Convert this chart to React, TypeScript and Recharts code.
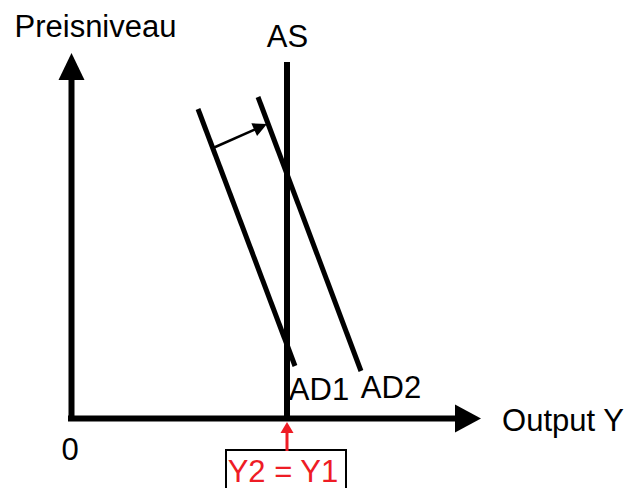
import { LineChart, XAxis, YAxis, ReferenceLine, ReferenceDot, ReferenceArea } from 'recharts';

// coordinates in chart units (x to the right, y downward from the top)
const ad1 = [
  { x: 198, y: 109 },
  { x: 295, y: 366 },
];
const ad2 = [
  { x: 258, y: 97 },
  { x: 361, y: 371 },
];
const asLine = [
  { x: 287, y: 62 },
  { x: 287, y: 421 },
];
const yAxisArrow = [
  { x: 71.5, y: 421 },
  { x: 71.5, y: 53 },
];
const xAxisArrow = [
  { x: 68, y: 418.5 },
  { x: 481, y: 418.5 },
];
const shiftArrow = [
  { x: 213, y: 148 },
  { x: 267, y: 124 },
];
const redArrow = [
  { x: 287, y: 451 },
  { x: 287, y: 422 },
];
const redBox = { x1: 226, x2: 346, y1: 450, y2: 495 };

const labels = [
  { text: 'Preisniveau', x: 95.5, y: 26, color: '#000' },
  { text: 'AS', x: 287.5, y: 36, color: '#000' },
  { text: 'AD1', x: 319, y: 389, color: '#000' },
  { text: 'AD2', x: 391, y: 387, color: '#000' },
  { text: 'Output Y', x: 563, y: 420, color: '#000' },
  { text: '0', x: 70, y: 449, color: '#000' },
  { text: 'Y2 = Y1', x: 283, y: 471, color: '#ee1c25' },
];

const FONT = '"Liberation Sans", Arial, Helvetica, sans-serif';

function arrowShape(headLen: number, headHalf: number, width: number, color: string) {
  return (props: any) => {
    const { x1, y1, x2, y2 } = props;
    const dx = x2 - x1;
    const dy = y2 - y1;
    const len = Math.sqrt(dx * dx + dy * dy) || 1;
    const ux = dx / len;
    const uy = dy / len;
    const bx = x2 - ux * headLen;
    const by = y2 - uy * headLen;
    const px = -uy * headHalf;
    const py = ux * headHalf;
    return (
      <g>
        <line x1={x1} y1={y1} x2={bx + ux} y2={by + uy} stroke={color} strokeWidth={width} />
        <polygon points={`${x2},${y2} ${bx + px},${by + py} ${bx - px},${by - py}`} fill={color} />
      </g>
    );
  };
}

export default function App() {
  return (
    <div style={{ position: 'absolute', left: 0, top: 0, width: 629, height: 488, background: '#fff' }}>
      <LineChart width={629} height={488} margin={{ top: 0, right: 0, bottom: 0, left: 0 }}>
        <XAxis type="number" dataKey="x" domain={[0, 629]} allowDataOverflow hide />
        <YAxis type="number" dataKey="y" domain={[0, 488]} reversed allowDataOverflow hide />

        <ReferenceArea
          x1={redBox.x1}
          x2={redBox.x2}
          y1={redBox.y1}
          y2={redBox.y2}
          fill="#fff"
          fillOpacity={1}
          stroke="#000"
          strokeWidth={2}
          ifOverflow="visible"
        />

        <ReferenceLine
          segment={yAxisArrow}
          ifOverflow="visible"
          shape={arrowShape(27, 13, 6, '#000')}
        />
        <ReferenceLine
          segment={xAxisArrow}
          ifOverflow="visible"
          shape={arrowShape(26, 14, 6, '#000')}
        />
        <ReferenceLine segment={asLine} stroke="#000" strokeWidth={6} strokeOpacity={1} ifOverflow="visible" />
        <ReferenceLine segment={ad1} stroke="#000" strokeWidth={5} strokeOpacity={1} ifOverflow="visible" />
        <ReferenceLine segment={ad2} stroke="#000" strokeWidth={5} strokeOpacity={1} ifOverflow="visible" />
        <ReferenceLine
          segment={shiftArrow}
          ifOverflow="visible"
          shape={arrowShape(14, 7, 2.5, '#000')}
        />
        <ReferenceLine
          segment={redArrow}
          ifOverflow="visible"
          shape={arrowShape(11, 6.5, 3, '#ee1c25')}
        />

        {labels.map((l) => (
          <ReferenceDot
            key={l.text}
            x={l.x}
            y={l.y}
            r={0}
            fill="none"
            stroke="none"
            ifOverflow="visible"
            label={{ value: l.text, position: 'center', fill: l.color, fontSize: 31, fontFamily: FONT }}
          />
        ))}
      </LineChart>
    </div>
  );
}
